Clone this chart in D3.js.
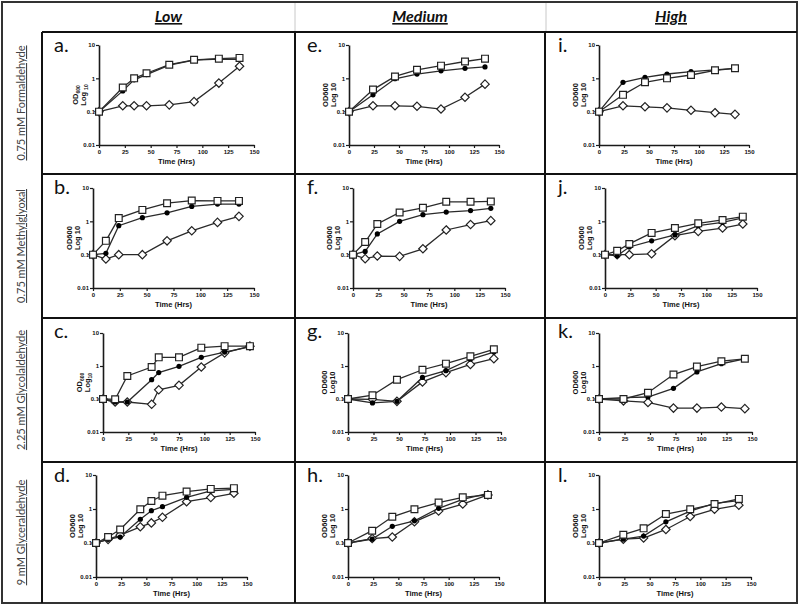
<!DOCTYPE html>
<html><head><meta charset="utf-8">
<script src="https://cdn.jsdelivr.net/npm/d3@7"></script>
<style>
body{margin:0;background:#fff}
svg{display:block}
.tk text{font-family:"Liberation Sans",Arial,sans-serif;font-size:6px;font-weight:bold;fill:#111}
</style>
</head><body>
<svg id="chart" width="800" height="607"></svg>
<script>
// ---------- data ----------
const columnHeaders = ["Low", "Medium", "High"];
const rowLabels = ["0.75 mM Formaldehyde", "0.75 mM Methylglyoxal", "2.25 mM Glycolaldehyde", "9 mM Glyceraldehyde"];
const xTicks = [0, 25, 50, 75, 100, 125, 150];
const yTicks = [0.01, 0.1, 1, 10];
const yTickLabels = ["0.01", "0.1", "1", "10"];
const xTitle = "Time (Hrs)";

// a. Formaldehyde / Low
const timeA    = [0, 23, 34, 46, 68, 92, 116, 136];
const squareA  = [0.1, 0.53, 1.0, 1.42, 2.56, 3.6, 3.9, 4.1];
const circleA  = [0.1, 0.42, 0.9, 1.3, 2.5, 3.5, 3.8, 3.7];
const diamondA = [0.1, 0.15, 0.15, 0.15, 0.16, 0.2, 0.72, 2.3];
// e. Formaldehyde / Medium
const timeE    = [0, 24, 46, 68, 92, 116, 136];
const squareE  = [0.1, 0.46, 1.14, 1.8, 2.4, 3.2, 3.9];
const circleE  = [0.1, 0.32, 0.97, 1.34, 1.68, 2.0, 2.2];
const diamondE = [0.1, 0.15, 0.15, 0.145, 0.12, 0.27, 0.67];
// i. Formaldehyde / High
const timeI    = [0, 24, 46, 68, 92, 116, 136];
const squareI  = [0.1, 0.32, 0.76, 1.0, 1.26, 1.74, 2.0];
const circleI  = [0.1, 0.76, 1.07, 1.35, 1.58, 1.8, 2.0];
const diamondI = [0.1, 0.15, 0.14, 0.13, 0.11, 0.093, 0.083];
// b. Methylglyoxal / Low
const timeB    = [0, 12, 24, 46, 69, 92, 116, 136];
const squareB  = [0.1, 0.26, 1.25, 2.2, 3.5, 4.2, 4.1, 4.1];
const circleB  = [0.1, 0.11, 0.74, 1.29, 1.8, 2.8, 3.3, 3.3];
const diamondB = [0.1, 0.074, 0.1, 0.1, 0.26, 0.52, 0.93, 1.41];
// f. Methylglyoxal / Medium
const timeF    = [0, 12, 24, 46, 69, 92, 116, 136];
const squareF  = [0.1, 0.24, 0.83, 1.85, 2.55, 3.85, 3.85, 3.95];
const circleF  = [0.1, 0.125, 0.42, 1.0, 1.58, 1.9, 2.1, 2.45];
const diamondF = [0.1, 0.076, 0.091, 0.089, 0.15, 0.55, 0.8, 1.05];
// j. Methylglyoxal / High
const timeJ    = [0, 12, 24, 46, 69, 92, 116, 136];
const squareJ  = [0.1, 0.13, 0.21, 0.45, 0.63, 0.87, 1.1, 1.38];
const circleJ  = [0.1, 0.093, 0.17, 0.26, 0.39, 0.74, 0.93, 1.26];
const diamondJ = [0.1, 0.1, 0.1, 0.106, 0.37, 0.5, 0.63, 0.83];
// c. Glycolaldehyde / Low
const timeC    = [0, 12, 24, 48, 55, 75, 97, 120, 145];
const squareC  = [0.1, 0.098, 0.5, 0.93, 1.83, 1.83, 3.6, 4.0, 4.0];
const circleC  = [0.1, 0.081, 0.081, 0.385, 0.63, 0.98, 1.83, 2.65, 3.77];
const diamondC = [0.1, 0.081, 0.081, 0.069, 0.19, 0.26, 0.93, 2.5, 4.0];
// g. Glycolaldehyde / Medium
const timeG    = [0, 24, 48, 73, 96, 120, 143];
const squareG  = [0.1, 0.13, 0.385, 0.77, 1.18, 1.96, 3.2];
const circleG  = [0.1, 0.076, 0.085, 0.45, 0.72, 1.6, 2.65];
const diamondG = [0.1, 0.098, 0.085, 0.33, 0.63, 1.12, 1.67];
// k. Glycolaldehyde / High
const timeK    = [0, 24, 48, 73, 96, 120, 143];
const squareK  = [0.1, 0.1, 0.155, 0.55, 0.96, 1.4, 1.65];
const circleK  = [0.1, 0.11, 0.115, 0.21, 0.66, 1.17, 1.65];
const diamondK = [0.1, 0.088, 0.079, 0.053, 0.053, 0.057, 0.051];
// d. Glyceraldehyde / Low
const timeD    = [0, 12, 24, 44, 55, 66, 90, 114, 137];
const squareD  = [0.1, 0.15, 0.25, 0.98, 1.72, 2.47, 3.25, 3.9, 4.1];
const circleD  = [0.1, 0.128, 0.15, 0.5, 0.89, 1.17, 2.2, 3.4, 3.8];
const diamondD = [0.1, 0.128, 0.17, 0.3, 0.39, 0.57, 1.64, 2.17, 2.9];
// h. Glyceraldehyde / Medium
const timeH    = [0, 24, 44, 66, 90, 114, 139];
const squareH  = [0.1, 0.23, 0.59, 0.98, 1.54, 2.2, 2.6];
const circleH  = [0.1, 0.13, 0.31, 0.45, 1.05, 1.93, 2.9];
const diamondH = [0.1, 0.135, 0.15, 0.42, 0.87, 1.4, 2.6];
// l. Glyceraldehyde / High
const timeL    = [0, 24, 44, 66, 90, 114, 138];
const squareL  = [0.1, 0.175, 0.27, 0.71, 0.98, 1.4, 1.98];
const circleL  = [0.1, 0.13, 0.16, 0.42, 0.87, 1.47, 1.76];
const diamondL = [0.1, 0.13, 0.14, 0.25, 0.6, 0.98, 1.3];

// ---------- panel table ----------
const panels = [
  {id:"a.", r:0, c:0, t:timeA, sq:squareA, ci:circleA, di:diamondA, od:"sub", lg:"sub"},
  {id:"e.", r:0, c:1, t:timeE, sq:squareE, ci:circleE, di:diamondE, od:"OD600", lg:"Log 10"},
  {id:"i.", r:0, c:2, t:timeI, sq:squareI, ci:circleI, di:diamondI, od:"OD600", lg:"Log 10"},
  {id:"b.", r:1, c:0, t:timeB, sq:squareB, ci:circleB, di:diamondB, od:"OD600", lg:"Log 10"},
  {id:"f.", r:1, c:1, t:timeF, sq:squareF, ci:circleF, di:diamondF, od:"OD600", lg:"Log 10"},
  {id:"j.", r:1, c:2, t:timeJ, sq:squareJ, ci:circleJ, di:diamondJ, od:"OD600", lg:"Log 10"},
  {id:"c.", r:2, c:0, t:timeC, sq:squareC, ci:circleC, di:diamondC, od:"sub", lg:"sub0"},
  {id:"g.", r:2, c:1, t:timeG, sq:squareG, ci:circleG, di:diamondG, od:"OD600", lg:"Log10"},
  {id:"k.", r:2, c:2, t:timeK, sq:squareK, ci:circleK, di:diamondK, od:"OD600", lg:"Log10"},
  {id:"d.", r:3, c:0, t:timeD, sq:squareD, ci:circleD, di:diamondD, od:"OD600", lg:"Log 10"},
  {id:"h.", r:3, c:1, t:timeH, sq:squareH, ci:circleH, di:diamondH, od:"OD600", lg:"Log 10"},
  {id:"l.", r:3, c:2, t:timeL, sq:squareL, ci:circleL, di:diamondL, od:"OD600", lg:"Log 10"}
];

// ---------- layout ----------
const colLeft = [42, 295, 545, 797];
const rowTop = [32, 174, 318, 462, 603];
const axX0 = [[99,349,599],[93,353,605],[103,348,599],[96,348,599]];
const axX1 = [[254,499,749],[254,505,757],[255,501,752],[247,499,751]];
const axY0 = [45, 188, 333, 475];
const axY1 = [145, 288, 432, 577];
const letterX = [54, 307, 558];

const svg = d3.select("#chart");
const ink = "#1a1a1a";

// frame
svg.append("rect").attr("x",2).attr("y",2).attr("width",795).attr("height",601)
  .attr("fill","none").attr("stroke","#333").attr("stroke-width",2);
[295, 546].forEach(x => svg.append("line").attr("x1",x).attr("x2",x).attr("y1",3).attr("y2",32)
  .attr("stroke","#c8c8c8").attr("stroke-width",1));
// grid lines
svg.append("line").attr("x1",colLeft[0]).attr("x2",colLeft[0]).attr("y1",rowTop[0]).attr("y2",603)
  .attr("stroke","#111").attr("stroke-width",2);
[1,2].forEach(i => svg.append("line").attr("x1",colLeft[i]).attr("x2",colLeft[i]).attr("y1",rowTop[0]).attr("y2",603)
  .attr("stroke","#111").attr("stroke-width",2));
[0,1,2,3].forEach(i => svg.append("line").attr("x1",colLeft[0]).attr("x2",797).attr("y1",rowTop[i]).attr("y2",rowTop[i])
  .attr("stroke","#111").attr("stroke-width",2));

// headers
columnHeaders.forEach((h,i) => {
  svg.append("text").attr("x",(colLeft[i]+colLeft[i+1])/2).attr("y",22)
    .attr("text-anchor","middle").attr("font-family","Lato, 'Open Sans', sans-serif")
    .attr("font-size",16).attr("font-weight","bold").attr("font-style","italic")
    .attr("text-decoration","underline").attr("fill","#111").text(h);
});
// row labels
rowLabels.forEach((lab,i) => {
  const cy = (rowTop[i]+rowTop[i+1])/2, cx = 25;
  svg.append("text").attr("transform",`translate(${cx},${cy}) rotate(-90)`)
    .attr("text-anchor","middle").attr("font-family","Lato, 'Open Sans', sans-serif")
    .attr("font-size",11).attr("fill","#444").attr("text-decoration","underline").text(lab);
});

const sqPath = s => `M${-s},${-s}H${s}V${s}H${-s}Z`;
const diPath = s => `M0,${-s}L${s},0L0,${s}L${-s},0Z`;

panels.forEach(p => {
  const x0 = axX0[p.r][p.c], x1 = axX1[p.r][p.c], y0 = axY0[p.r], y1 = axY1[p.r];
  const x = d3.scaleLinear().domain([0,150]).range([x0,x1]);
  const y = d3.scaleLog().domain([0.01,10]).range([y1,y0]);
  const g = svg.append("g");

  // letter
  g.append("text").attr("x",letterX[p.c]).attr("y",rowTop[p.r]+20)
    .attr("font-family","Lato, 'Open Sans', sans-serif").attr("font-size",20).attr("fill","#111").text(p.id);

  // axes
  const ax = g.append("g").attr("class","tk").attr("transform",`translate(0,${y1})`)
    .call(d3.axisBottom(x).tickValues(xTicks).tickSize(3).tickSizeOuter(0).tickPadding(2).tickFormat(d3.format("d")));
  const ay = g.append("g").attr("class","tk").attr("transform",`translate(${x0},0)`)
    .call(d3.axisLeft(y).tickValues(yTicks).tickSize(3).tickSizeOuter(0).tickPadding(1)
      .tickFormat((d,i) => yTickLabels[i]));
  [ax, ay].forEach(a => {
    a.select(".domain").attr("stroke",ink).attr("stroke-width",1.6);
    a.selectAll(".tick line").attr("stroke",ink).attr("stroke-width",1.2);
  });

  // x title
  g.append("text").attr("x",(x0+x1)/2).attr("y",y1+19).attr("text-anchor","middle")
    .attr("font-family","'Liberation Sans',Arial,sans-serif").attr("font-size",7.5).attr("font-weight","bold")
    .attr("fill","#111").text(xTitle);

  // y title (two lines, rotated)
  const cy = (y0+y1)/2;
  const t1 = g.append("text").attr("transform",`translate(${x0-21},${cy}) rotate(-90)`)
    .attr("text-anchor","middle").attr("font-family","'Liberation Sans',Arial,sans-serif")
    .attr("font-size",7.5).attr("font-weight","bold").attr("fill","#111");
  if (p.od === "sub") { t1.append("tspan").text("OD"); t1.append("tspan").attr("font-size",5).attr("dy",1.5).text("600"); }
  else t1.text(p.od);
  const t2 = g.append("text").attr("transform",`translate(${x0-13},${cy}) rotate(-90)`)
    .attr("text-anchor","middle").attr("font-family","'Liberation Sans',Arial,sans-serif")
    .attr("font-size",7.5).attr("font-weight","bold").attr("fill","#111");
  if (p.lg === "sub") { t2.append("tspan").text("Log "); t2.append("tspan").attr("font-size",5).attr("dy",1.5).text("10"); }
  else if (p.lg === "sub0") { t2.append("tspan").text("Log"); t2.append("tspan").attr("font-size",5).attr("dy",1.5).text("10"); }
  else t2.text(p.lg);

  // series
  const series = [
    {vals:p.di, kind:"di"},
    {vals:p.ci, kind:"ci"},
    {vals:p.sq, kind:"sq"}
  ];
  const line = d3.line().x(d => x(d[0])).y(d => y(d[1]));
  series.forEach(s => {
    const pts = p.t.map((t,i) => [t, s.vals[i]]);
    g.append("path").attr("d",line(pts)).attr("fill","none").attr("stroke","#2a2a2a").attr("stroke-width",1.3);
  });
  series.forEach(s => {
    const pts = p.t.map((t,i) => [t, s.vals[i]]);
    const m = g.selectAll(null).data(pts).enter();
    if (s.kind === "ci") {
      m.append("circle").attr("cx",d=>x(d[0])).attr("cy",d=>y(d[1])).attr("r",2.6).attr("fill","#000");
    } else {
      m.append("path").attr("transform",d=>`translate(${x(d[0])},${y(d[1])})`)
        .attr("d", s.kind==="sq" ? sqPath(3.4) : diPath(4.2))
        .attr("fill","#fff").attr("stroke","#222").attr("stroke-width",1.2);
    }
  });
});
</script>
</body></html>
